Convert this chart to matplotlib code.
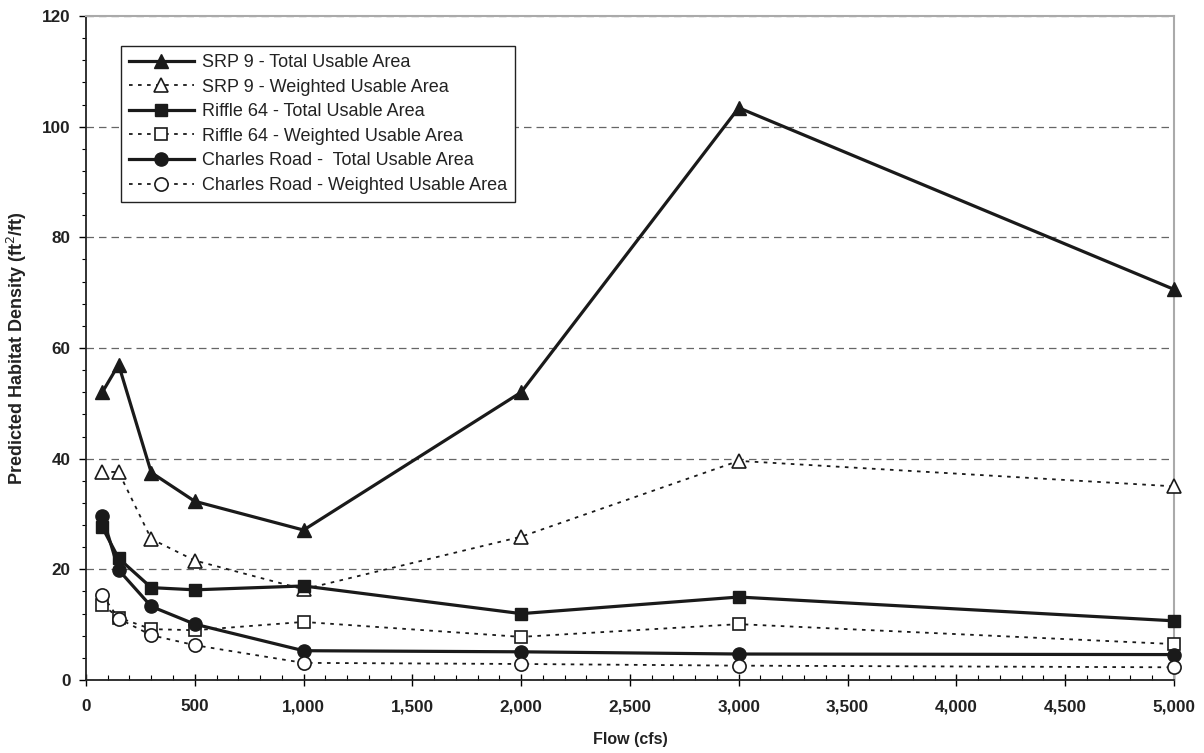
import matplotlib
matplotlib.use('Agg')
from matplotlib import pyplot as plt
from matplotlib.ticker import MultipleLocator, FuncFormatter

plt.rcParams['font.family'] = ['Liberation Sans', 'DejaVu Sans']

flow = [75, 150, 300, 500, 1000, 2000, 3000, 5000]

srp_total = [52.0, 57.0, 37.5, 32.3, 27.1, 52.0, 103.4, 70.6]
srp_weighted = [37.6, 37.6, 25.5, 21.6, 16.4, 25.9, 39.6, 35.0]
riffle_total = [27.6, 22.0, 16.7, 16.3, 17.0, 12.0, 15.0, 10.7]
riffle_weighted = [13.6, 11.3, 9.2, 9.0, 10.5, 7.8, 10.1, 6.5]
charles_total = [29.7, 19.9, 13.3, 10.1, 5.3, 5.1, 4.7, 4.6]
charles_weighted = [15.4, 11.1, 8.1, 6.3, 3.1, 2.9, 2.6, 2.3]

fig = plt.figure(figsize=(12.04, 7.53), dpi=100, facecolor='white')
ax = fig.add_axes([0.0714, 0.0969, 0.9036, 0.8819])

dots = (0, (2.0, 3.0))
solid_kw = dict(color='#1a1a1a', lw=2.3, ls='-', mfc='#1a1a1a', mec='#1a1a1a', clip_on=False, zorder=3)
dot_kw = dict(color='#1a1a1a', lw=1.3, ls=dots, mfc='white', mec='#1a1a1a', mew=1.2, clip_on=False, zorder=3)

ax.plot(flow, srp_total, marker='^', ms=10, label='SRP 9 - Total Usable Area', **solid_kw)
ax.plot(flow, srp_weighted, marker='^', ms=10, label='SRP 9 - Weighted Usable Area', **dot_kw)
ax.plot(flow, riffle_total, marker='s', ms=9, label='Riffle 64 - Total Usable Area', **solid_kw)
ax.plot(flow, riffle_weighted, marker='s', ms=9, label='Riffle 64 - Weighted Usable Area', **dot_kw)
ax.plot(flow, charles_total, marker='o', ms=9.5, label='Charles Road -  Total Usable Area', **solid_kw)
ax.plot(flow, charles_weighted, marker='o', ms=9.5, label='Charles Road - Weighted Usable Area', **dot_kw)

ax.set_xlim(0, 5000)
ax.set_ylim(0, 120)
ax.xaxis.set_major_locator(MultipleLocator(500))
ax.xaxis.set_minor_locator(MultipleLocator(100))
ax.yaxis.set_major_locator(MultipleLocator(20))
ax.yaxis.set_minor_locator(MultipleLocator(4))
ax.xaxis.set_major_formatter(FuncFormatter(lambda v, p: f'{int(v):,}'))

ax.grid(axis='y', which='major', ls=(0, (6, 4)), color='#666666', lw=0.9)
ax.set_axisbelow(True)

for s in ['left', 'bottom']:
    ax.spines[s].set_color('#222222')
    ax.spines[s].set_linewidth(1.3)
for s in ['top', 'right']:
    ax.spines[s].set_color('#aaaaaa')
    ax.spines[s].set_linewidth(1.5)

ax.tick_params(axis='x', which='major', direction='inout', length=8, width=1, labelsize=12.3, pad=10)
ax.tick_params(axis='x', which='minor', direction='in', length=3.6, width=0.8)
ax.tick_params(axis='y', which='major', direction='out', length=5, width=1, labelsize=12.3, pad=6)
ax.tick_params(axis='y', which='minor', direction='out', length=3, width=0.8)
for lab in ax.get_xticklabels() + ax.get_yticklabels():
    lab.set_fontweight('bold')
    lab.set_color('#222222')

ax.set_xlabel('Flow (cfs)', fontsize=11.5, fontweight='bold', color='#222222')
ax.set_ylabel('Predicted Habitat Density (ft$^2$/ft)', fontsize=13, fontweight='bold', color='#222222')
ax.xaxis.set_label_coords(0.5, -0.079)
ax.yaxis.set_label_coords(-0.052, 0.5)

leg = ax.legend(loc='upper left', bbox_to_anchor=(0.032, 0.955), borderaxespad=0,
                fontsize=13, handlelength=3.6, labelspacing=0.42, handletextpad=0.45,
                fancybox=False, framealpha=1, edgecolor='#222222', borderpad=0.45)
leg.get_frame().set_linewidth(1.0)
for t in leg.get_texts():
    t.set_color('#222222')

plt.savefig('out.png', dpi=100, facecolor='white')
